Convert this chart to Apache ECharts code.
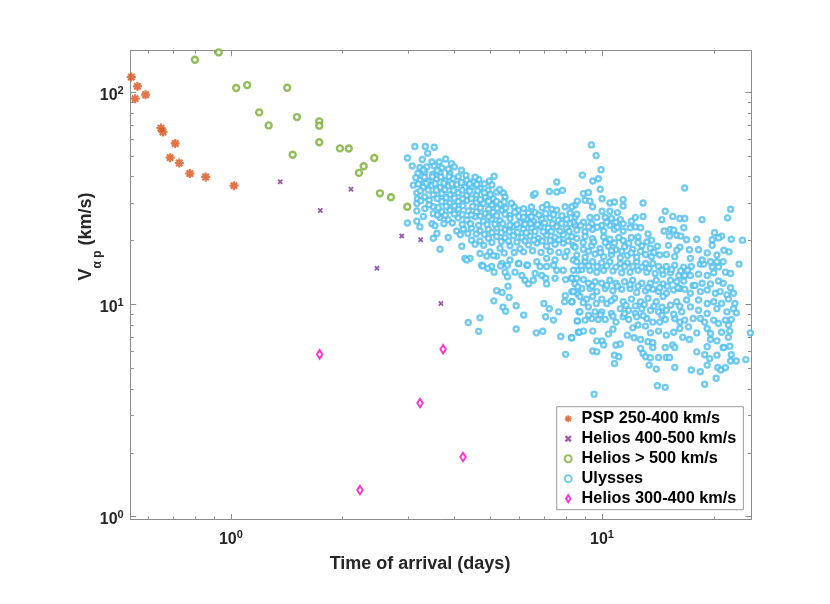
<!DOCTYPE html>
<html>
<head>
<meta charset="utf-8">
<script src="https://cdn.jsdelivr.net/npm/echarts@6/dist/echarts.min.js"></script>
<style>
  html, body { margin: 0; padding: 0; background: #fff; }
  #chart { width: 830px; height: 604px; }
</style>
</head>
<body>
<div id="chart"></div>
<script>
// axis ranges and ticks
const xRange = [0.537, 25.2];
const yRange = [0.97, 157];
const xTickValues = [1, 10];
const xTickExps = ['0', '1'];
const xMinorTicks = [0.6, 0.7, 0.8, 0.9, 2, 3, 4, 5, 6, 7, 8, 9, 20];
const yTickValues = [1, 10, 100];
const yTickExps = ['0', '1', '2'];
const yMinorTicks = [2, 3, 4, 5, 6, 7, 8, 9, 20, 30, 40, 50, 60, 70, 80, 90];

const seriesNames = ['PSP 250-400 km/s', 'Helios 400-500 km/s', 'Helios > 500 km/s', 'Ulysses', 'Helios 300-400 km/s'];

// [time of arrival (days), V alpha-p (km/s)]
const pspData = [
  [0.539, 117.9], [0.560, 106.6], [0.552, 93.3], [0.589, 97.4], [0.648, 67.8], [0.656, 64.9],
  [0.708, 57.4], [0.686, 49.2], [0.726, 46.4], [0.775, 41.4], [0.855, 39.9], [1.019, 36.3]
];
const heliosMidData = [
  [1.358, 37.9], [1.741, 27.7], [2.106, 34.9], [2.475, 14.8], [2.885, 21.0], [3.246, 20.2], [3.681, 10.1]
];
const heliosFastData = [
  [0.800, 142.4], [0.927, 154.1], [1.033, 104.7], [1.106, 108.1], [1.192, 80.4], [1.264, 69.8],
  [1.418, 105.1], [1.506, 76.4], [1.730, 72.9], [1.730, 69.6], [1.467, 50.8], [1.730, 58.1],
  [1.967, 54.4], [2.077, 54.3], [2.434, 49.0], [2.279, 44.8], [2.213, 41.7], [2.521, 33.4],
  [2.700, 32.0], [2.987, 28.9]
];
const heliosSlowData = [
  [1.734, 5.82], [3.73, 6.16], [3.232, 3.43], [2.227, 1.335], [4.221, 1.91]
];
const ulyssesData = [
  [3.13, 55.5], [3.34, 55.5], [3.53, 55.1], [3.39, 51.6], [2.99, 49.0], [3.28, 48.2], [3.79, 48.5],
  [3.08, 44.9], [3.23, 44.2], [3.48, 46.9], [3.64, 46.9], [3.93, 46.1], [3.37, 44.5], [3.53, 44.9],
  [3.70, 44.0], [4.18, 42.9], [3.19, 41.4], [3.33, 41.9], [3.50, 41.1], [3.66, 41.8], [3.89, 41.5],
  [4.10, 40.0], [3.10, 36.5], [3.23, 38.5], [3.40, 38.1], [3.58, 38.9], [3.78, 38.3], [3.97, 39.2],
  [4.32, 38.5], [4.50, 37.9], [4.66, 38.8], [5.12, 40.2], [4.97, 38.2], [3.17, 33.5], [3.30, 35.8],
  [3.48, 36.3], [3.66, 35.6], [3.85, 36.2], [4.06, 36.7], [4.27, 35.6], [4.45, 36.0], [4.69, 35.2],
  [4.93, 34.5], [5.20, 33.9], [5.42, 33.5], [3.18, 31.5], [3.33, 32.1], [3.51, 32.9], [3.70, 33.3],
  [3.89, 32.9], [4.10, 33.6], [4.32, 32.6], [4.59, 32.9], [4.84, 32.1], [5.09, 31.5], [5.48, 32.1],
  [3.17, 29.9], [3.33, 28.3], [3.51, 28.9], [3.70, 30.6], [3.89, 30.1], [4.10, 30.6], [4.32, 30.9],
  [4.59, 30.2], [4.79, 29.9], [5.04, 29.4], [5.31, 29.7], [5.80, 28.9], [3.17, 27.6], [3.51, 26.8],
  [3.70, 27.3], [3.89, 27.8], [4.10, 28.1], [4.36, 27.6], [4.59, 27.3], [4.84, 26.8], [5.09, 27.2],
  [5.37, 27.8], [5.65, 26.3], [5.97, 26.0], [6.33, 27.0], [6.60, 27.1], [7.32, 28.1], [7.55, 27.8],
  [7.95, 28.9], [8.46, 29.4], [6.53, 32.7], [6.60, 33.3], [7.21, 34.1], [7.55, 33.9], [7.82, 34.5],
  [7.55, 37.8], [2.99, 24.2], [3.17, 24.7], [3.23, 23.2], [3.48, 24.0], [3.66, 25.7], [3.85, 25.1],
  [4.10, 25.6], [4.32, 25.0], [4.55, 25.9], [4.79, 24.7], [5.04, 25.2], [5.31, 24.8], [5.65, 25.4],
  [6.01, 24.3], [6.27, 25.3], [6.53, 24.6], [6.88, 25.3], [7.24, 25.6], [7.62, 24.9], [8.03, 25.2],
  [8.46, 25.8], [3.51, 20.5], [3.59, 21.6], [3.85, 20.7], [4.06, 22.2], [4.23, 22.7], [4.45, 22.9],
  [4.69, 22.2], [4.94, 22.6], [5.20, 23.0], [5.48, 22.5], [5.77, 23.3], [6.14, 22.7], [6.46, 23.0],
  [6.81, 23.4], [7.17, 22.9], [7.55, 23.2], [8.03, 22.8], [8.46, 23.7], [4.19, 18.8], [4.45, 20.1],
  [4.69, 19.9], [4.94, 20.5], [5.20, 20.9], [5.48, 20.6], [5.77, 21.1], [6.08, 20.7], [6.40, 21.0],
  [6.73, 20.5], [7.09, 21.2], [7.47, 20.7], [7.86, 21.3], [8.29, 20.9], [3.66, 18.2], [4.69, 17.4],
  [4.99, 17.7], [5.31, 18.4], [5.65, 18.9], [6.01, 18.3], [6.33, 19.1], [6.67, 19.5], [7.09, 18.8],
  [7.47, 19.2], [7.86, 19.5], [8.37, 18.9], [4.27, 16.5], [4.41, 16.5], [4.74, 15.3], [5.04, 15.1],
  [5.37, 15.6], [5.65, 16.2], [5.95, 15.6], [6.27, 15.3], [6.67, 15.9], [7.09, 16.5], [7.47, 16.2],
  [7.95, 16.8], [8.37, 16.2], [4.89, 16.9], [5.20, 16.9],
  [4.32, 16.2], [4.77, 15.2], [4.92, 14.8], [5.12, 14.2], [5.33, 15.2], [5.56, 15.3], [5.48, 14.2],
  [5.56, 13.5], [5.83, 14.2], [5.97, 15.6], [6.08, 13.7], [6.30, 15.3], [6.20, 13.0], [6.33, 12.5],
  [6.53, 13.0], [6.60, 14.0], [6.81, 15.1], [6.88, 13.7], [7.05, 13.3], [7.09, 12.5], [7.47, 13.3],
  [7.55, 14.5], [7.86, 14.5], [7.98, 13.1], [8.29, 13.3], [8.46, 12.5], [8.63, 14.5], [7.09, 15.1],
  [7.40, 15.3], [5.20, 11.6], [5.38, 11.4], [5.58, 12.2], [5.11, 10.4], [5.62, 10.8], [5.41, 9.7],
  [5.50, 9.28], [5.87, 9.86], [6.15, 8.91], [6.97, 10.1], [7.21, 9.54], [7.64, 9.23], [7.05, 8.75],
  [7.40, 8.44], [7.96, 11.0], [8.29, 11.5], [7.93, 10.3], [8.30, 10.3], [8.60, 11.2], [8.67, 9.23],
  [8.58, 8.35], [4.36, 8.23], [4.69, 8.65], [4.65, 7.47], [5.87, 7.67], [6.65, 7.35], [6.92, 7.48],
  [7.74, 7.07], [8.27, 6.97], [8.63, 7.40], [7.98, 5.82],
  [8.55, 15.9], [9.00, 16.0], [9.43, 15.9], [9.98, 15.7], [10.5, 15.9], [11.2, 15.6], [11.7, 15.7],
  [12.4, 15.9], [13.1, 15.6], [13.7, 15.6], [14.2, 15.1], [14.9, 15.1], [15.7, 15.3], [16.6, 15.0],
  [17.4, 15.1], [18.4, 15.5], [18.8, 15.5], [19.8, 15.0], [20.6, 15.0], [21.2, 15.9], [20.4, 15.9],
  [8.37, 14.5], [8.82, 14.6], [9.28, 14.5], [9.68, 14.2], [10.1, 14.5], [10.7, 14.4], [11.3, 14.1],
  [11.9, 14.2], [12.5, 14.5], [13.2, 14.2], [13.9, 14.0], [14.6, 13.9], [15.3, 14.1], [16.1, 13.7],
  [16.7, 13.7], [17.3, 13.7], [18.2, 13.9], [19.2, 13.7], [20.0, 14.1], [21.5, 14.2], [22.2, 14.0],
  [8.29, 13.3], [8.55, 13.3], [8.91, 13.1], [9.19, 12.6], [9.58, 12.8], [9.98, 12.6], [10.5, 13.0],
  [10.9, 12.6], [11.5, 12.8], [12.1, 13.0], [12.8, 12.6], [13.5, 12.6], [14.0, 13.0], [14.6, 12.5],
  [15.3, 13.0], [15.9, 12.8], [16.6, 12.9], [17.6, 12.3], [18.6, 12.6], [19.6, 12.5], [20.6, 12.9],
  [21.2, 12.6], [22.2, 12.0], [8.37, 11.5], [8.82, 11.9], [9.28, 11.9], [9.68, 11.5], [10.2, 11.9],
  [10.7, 11.6], [11.3, 11.8], [11.9, 11.9], [12.4, 11.4], [13.1, 11.6], [13.7, 11.8], [14.2, 11.5],
  [14.9, 11.3], [15.6, 11.7], [16.2, 11.9], [16.7, 11.8], [17.3, 11.3], [17.8, 12.3], [18.4, 11.5],
  [19.2, 11.7], [20.2, 11.3], [20.8, 11.5], [21.7, 11.1], [22.6, 11.3], [8.29, 10.3], [8.72, 10.9],
  [9.09, 10.6], [9.43, 10.9], [9.98, 10.6], [10.3, 10.1], [10.8, 10.7], [11.4, 10.3], [12.0, 10.6],
  [12.7, 10.3], [13.3, 10.7], [14.0, 10.3], [14.6, 10.9], [15.3, 9.92], [15.9, 10.3], [16.9, 10.5],
  [18.2, 10.5], [19.2, 10.1], [20.0, 10.3], [21.0, 10.1], [21.9, 10.6], [22.8, 10.1], [8.72, 9.23],
  [9.19, 9.74], [9.58, 9.23], [9.98, 9.23], [10.6, 9.07], [11.2, 9.56], [11.8, 9.40], [12.3, 9.07],
  [12.8, 9.56], [13.5, 9.40], [14.2, 9.23], [14.9, 9.40], [16.4, 9.23], [17.3, 9.74], [18.2, 9.40],
  [19.2, 9.07], [20.4, 9.56], [21.7, 9.23], [22.6, 9.56], [23.0, 9.13], [8.58, 8.37], [9.00, 8.44],
  [9.38, 8.59], [9.77, 8.49], [10.2, 8.49], [10.9, 8.26], [11.4, 8.75], [11.8, 8.49], [12.4, 8.75],
  [13.2, 8.59], [13.7, 8.26], [14.3, 8.26], [14.8, 8.49], [15.7, 8.59], [16.2, 8.26], [16.7, 8.44],
  [17.6, 8.59], [18.4, 8.59], [18.9, 8.26], [20.0, 8.44], [20.6, 8.13], [21.5, 8.44], [22.3, 8.49],
  [21.9, 8.00], [8.29, 6.97], [8.69, 7.40], [8.91, 7.49], [9.44, 7.49], [10.4, 7.25], [10.7, 7.64],
  [11.7, 7.17], [12.1, 7.76], [12.5, 8.00], [13.1, 7.91], [13.5, 7.35], [14.2, 7.49], [14.9, 7.17],
  [15.6, 7.40], [16.2, 7.71], [17.1, 7.84], [18.0, 7.35], [19.2, 7.71], [19.6, 7.30], [21.0, 7.40],
  [22.1, 7.49], [21.9, 7.00], [9.68, 6.74], [10.0, 6.74], [10.1, 6.44], [10.9, 6.44], [11.2, 6.51],
  [12.2, 6.97], [12.7, 6.84], [13.3, 6.67], [13.7, 6.60], [13.7, 6.27], [14.8, 6.27], [15.5, 6.44],
  [15.7, 6.27], [16.5, 7.00], [17.2, 6.84], [19.6, 6.84], [20.4, 6.74], [21.2, 6.27], [22.1, 6.36],
  [25.1, 7.35], [9.44, 6.04], [9.68, 5.98], [10.8, 5.77], [11.1, 5.67], [12.7, 6.21], [12.9, 5.88],
  [13.1, 5.67], [13.5, 5.61], [14.2, 5.63], [14.9, 5.63], [15.2, 5.63], [18.0, 5.98], [19.2, 6.32],
  [18.9, 5.80], [19.5, 5.56], [20.4, 5.77], [21.3, 6.27], [22.3, 5.80], [22.2, 5.42], [23.0, 5.42],
  [24.4, 5.50], [10.8, 5.27], [13.4, 5.18], [14.0, 4.96], [15.7, 5.05], [17.4, 4.91], [18.4, 4.82],
  [19.2, 5.18], [20.5, 5.05], [20.9, 4.91], [21.5, 5.03], [20.3, 4.49], [14.1, 4.14], [14.8, 4.07],
  [18.9, 4.21], [9.52, 3.78],
  [9.36, 56.5], [9.64, 50.3], [9.94, 43.2], [8.85, 40.7], [9.44, 38.2], [9.77, 39.1], [9.89, 34.9],
  [8.91, 33.3], [9.19, 33.7], [9.00, 31.0], [8.58, 30.7], [9.28, 30.7], [10.0, 31.5], [9.43, 28.9],
  [16.7, 35.4], [10.5, 30.1], [10.8, 30.4], [11.4, 31.2], [11.4, 29.1], [12.9, 30.1], [10.0, 27.5],
  [10.5, 27.5], [11.0, 27.1], [12.9, 26.0], [14.8, 27.5], [14.5, 25.1], [15.5, 26.0], [16.2, 25.4],
  [16.7, 25.4], [18.6, 25.1], [21.8, 25.6], [22.2, 28.1], [8.29, 28.9], [8.55, 26.6], [9.28, 25.7],
  [9.68, 25.7], [10.2, 25.7], [10.6, 25.4], [11.2, 25.1], [12.0, 24.7], [12.3, 25.7], [8.37, 24.4],
  [8.91, 24.4], [9.38, 24.0], [9.98, 23.6], [10.5, 23.6], [10.9, 24.4], [11.4, 24.0], [12.3, 23.2],
  [12.7, 23.0], [16.6, 23.0], [14.7, 22.2], [15.3, 22.6], [15.6, 22.4], [8.55, 22.4], [9.00, 22.0],
  [9.43, 22.6], [10.1, 22.2], [10.8, 22.6], [11.4, 22.2], [12.0, 20.7], [12.5, 20.8], [13.3, 21.5],
  [13.6, 20.1], [15.2, 21.0], [15.9, 21.2], [16.3, 21.0], [16.9, 20.2], [18.0, 20.3], [20.1, 21.8],
  [21.0, 21.0], [20.6, 20.6], [22.3, 20.3], [19.8, 20.2], [19.8, 19.0], [21.3, 18.0], [22.0, 17.7],
  [19.2, 17.5], [20.4, 17.1], [18.2, 18.1], [17.2, 18.1], [16.2, 18.6], [15.1, 19.0], [14.3, 17.1],
  [14.9, 17.2], [15.7, 16.8], [15.9, 18.0], [8.55, 20.5], [9.00, 20.9], [9.43, 20.4], [10.1, 20.8],
  [10.5, 20.3], [11.1, 20.7], [11.4, 20.0], [8.46, 18.6], [8.91, 18.2], [9.38, 18.9], [9.88, 18.3],
  [10.4, 18.8], [10.9, 18.1], [11.5, 18.7], [12.1, 18.2], [12.8, 18.9], [13.5, 18.4], [14.1, 18.8],
  [8.55, 17.1], [9.00, 16.7], [9.58, 17.3], [10.1, 16.8], [10.6, 17.2], [11.2, 16.6], [11.7, 17.0],
  [12.4, 16.7], [13.1, 17.2], [13.6, 16.8], [17.3, 16.5], [18.6, 16.2], [19.6, 15.9], [23.9, 20.1],
  [23.4, 15.5],
  // dense core, read between the outlined rows
  [3.30, 43.0], [3.60, 42.8], [3.85, 43.4], [4.00, 44.5], [3.15, 39.6], [3.32, 39.8], [3.49, 40.0],
  [3.68, 39.9], [3.87, 40.1], [4.30, 40.6], [4.55, 39.8], [3.20, 37.0], [3.36, 37.2], [3.55, 37.1],
  [3.75, 37.3], [3.94, 37.0], [4.18, 37.6], [4.40, 37.0], [4.60, 36.8], [4.82, 37.0], [5.05, 36.6],
  [3.24, 34.3], [3.40, 34.6], [3.58, 34.5], [3.77, 34.7], [3.98, 34.4], [4.20, 34.6], [4.40, 34.2],
  [4.62, 34.3], [4.82, 33.6], [5.00, 33.0], [5.30, 34.8], [3.25, 30.8], [3.42, 31.0], [3.60, 31.6],
  [3.80, 31.8], [4.00, 31.7], [4.21, 31.5], [4.45, 31.6], [4.70, 31.2], [4.95, 30.6], [5.20, 30.6],
  [5.45, 30.5], [5.70, 30.0], [3.42, 29.5], [3.62, 28.6], [3.80, 29.0], [4.00, 29.1], [4.22, 29.2],
  [4.48, 29.0], [4.70, 28.5], [4.95, 28.2], [5.22, 28.4], [5.50, 28.5], [5.95, 27.8], [6.15, 28.3],
  [6.45, 28.8], [6.90, 28.6], [7.10, 29.5], [3.30, 26.0], [3.60, 26.4], [3.78, 26.3], [4.00, 26.7],
  [4.20, 26.5], [4.45, 26.4], [4.70, 26.1], [4.95, 25.9], [5.20, 26.2], [5.48, 26.6], [5.82, 27.2],
  [6.15, 25.8], [6.45, 25.9], [6.75, 26.4], [7.05, 26.8], [7.40, 26.5], [7.80, 26.2], [8.20, 27.0],
  [3.55, 23.5], [3.75, 24.0], [3.95, 24.2], [4.20, 23.8], [4.42, 24.0], [4.65, 23.6], [4.90, 23.8],
  [5.15, 23.9], [5.40, 24.0], [5.65, 23.7], [5.90, 23.8], [6.20, 23.9], [6.42, 24.0], [6.70, 23.8],
  [7.00, 24.2], [7.35, 24.0], [7.78, 24.1], [8.20, 24.0], [4.15, 21.3], [4.35, 21.6], [4.58, 21.5],
  [4.82, 21.4], [5.05, 21.8], [5.35, 21.8], [5.62, 22.0], [5.92, 21.9], [6.25, 21.8], [6.60, 22.1],
  [6.95, 22.0], [7.30, 22.1], [7.70, 22.2], [8.15, 22.1], [4.55, 19.2], [4.80, 19.0], [5.05, 19.6],
  [5.35, 19.8], [5.60, 19.9], [5.90, 19.7], [6.20, 19.9], [6.55, 20.1], [6.90, 19.9], [7.25, 20.0],
  [7.65, 20.2], [8.10, 19.9], [5.10, 17.0], [5.45, 17.5], [5.80, 17.6], [6.15, 17.7], [6.50, 17.9],
  [6.85, 17.6], [7.25, 17.8], [7.65, 17.6], [8.05, 17.8], [8.80, 15.2], [9.20, 15.2], [9.70, 15.1],
  [10.3, 15.2], [10.9, 15.0], [11.5, 15.1], [12.1, 15.1], [12.8, 15.0], [13.4, 14.8], [14.5, 14.5],
  [15.4, 14.6], [16.3, 14.4], [17.0, 14.5], [8.60, 12.1], [9.40, 12.2], [10.3, 12.3], [11.0, 12.2],
  [11.9, 12.4], [12.5, 12.2], [13.3, 12.0], [14.3, 12.0], [15.0, 12.2], [16.0, 12.0], [8.90, 10.2],
  [9.65, 10.1], [10.6, 10.4], [11.6, 9.9], [12.3, 9.85], [13.0, 10.0], [13.8, 9.8], [14.5, 9.7],
  [16.2, 9.8], [9.20, 8.9], [9.90, 8.95], [10.7, 8.8], [11.5, 9.05], [12.9, 8.85], [14.5, 8.9],
  [15.6, 9.0], [8.75, 23.5], [9.20, 23.2], [9.70, 23.1], [10.3, 24.4], [11.0, 23.1], [11.9, 23.0],
  [8.90, 19.6], [9.50, 19.7], [10.2, 19.6], [10.8, 19.5], [11.8, 19.4], [12.5, 19.6], [13.2, 19.7],
  [9.20, 17.8], [9.90, 17.6], [10.6, 17.9], [11.3, 17.8], [12.0, 17.5], [12.7, 17.8], [13.8, 17.6]
];

const axisGray = '#8c8c8c';
const textDark = '#262626';
const fontFamily = '"Liberation Sans", Arial, Helvetica, sans-serif';

// MATLAB-like star, cross and diamond markers
const starPath = 'path://M7.6 0H12.4V20H7.6Z M0 7.6H20V12.4H0Z M4.63 1.23L18.77 15.37L15.37 18.77L1.23 4.63Z M15.37 1.23L18.77 4.63L4.63 18.77L1.23 15.37Z';
const crossPath = 'path://M5.12 0.88L19.12 14.88L14.88 19.12L0.88 5.12Z M14.88 0.88L19.12 5.12L5.12 19.12L0.88 14.88Z';
const diamondPath = 'path://M5 0L10 8L5 16L0 8Z';

function powLabel(values, exps) {
  return function (v) {
    let best = 0;
    values.forEach((t, i) => {
      if (Math.abs(Math.log10(t) - Math.log10(v)) < Math.abs(Math.log10(values[best]) - Math.log10(v))) best = i;
    });
    return '{b|10}{e|' + exps[best] + '}';
  };
}
const powRich = {
  b: { fontSize: 16, fontWeight: 'bold', fontFamily, color: textDark, lineHeight: 20 },
  e: { fontSize: 11, fontWeight: 'bold', fontFamily, color: textDark, lineHeight: 12, verticalAlign: 'top' }
};

function makeAxis(range, position, ticks, tickLen, withLine, label) {
  return {
    type: 'log',
    logBase: 10,
    position,
    min: range[0],
    max: range[1],
    axisLine: { show: withLine, onZero: false, lineStyle: { color: axisGray, width: 1 } },
    axisTick: { show: true, inside: true, length: tickLen, customValues: ticks, lineStyle: { color: axisGray, width: 1 } },
    axisLabel: label || { show: false },
    splitLine: { show: false },
    minorTick: { show: false },
    axisPointer: { show: false }
  };
}

const xAxes = [
  makeAxis(xRange, 'bottom', xTickValues, 5.5, true, {
    show: true, customValues: xTickValues, margin: 10, formatter: powLabel(xTickValues, xTickExps), rich: powRich
  }),
  makeAxis(xRange, 'bottom', xMinorTicks, 3, false),
  makeAxis(xRange, 'top', xTickValues, 5.5, true),
  makeAxis(xRange, 'top', xMinorTicks, 3, false)
];
const yAxes = [
  makeAxis(yRange, 'left', yTickValues, 5.5, true, {
    show: true, customValues: yTickValues, margin: 7, padding: [6, 0, 0, 0], formatter: powLabel(yTickValues, yTickExps), rich: powRich
  }),
  makeAxis(yRange, 'left', yMinorTicks, 3, false),
  makeAxis(yRange, 'right', yTickValues, 5.5, true),
  makeAxis(yRange, 'right', yMinorTicks, 3, false)
];

const chart = echarts.init(document.getElementById('chart'), null, { renderer: 'canvas' });
const option = {
  backgroundColor: '#fff',
  animation: false,
  grid: { left: 130.7, right: 79, top: 50.7, bottom: 84.5, containLabel: false },
  xAxis: xAxes,
  yAxis: yAxes,
  legend: {
    data: [
      { name: seriesNames[0] },
      { name: seriesNames[1] },
      { name: seriesNames[2] },
      { name: seriesNames[3] },
      { name: seriesNames[4], icon: diamondPath }
    ],
    orient: 'vertical',
    left: 556.7,
    top: 406.7,
    itemWidth: 16.8,
    itemHeight: 7,
    itemGap: 0,
    padding: [2, 7, 1, 7],
    backgroundColor: '#fff',
    borderColor: '#9a9a9a',
    borderWidth: 1,
    borderRadius: 0,
    textStyle: { fontSize: 16.3, fontWeight: 'bold', fontFamily, color: '#000', lineHeight: 20 }
  },
  graphic: [
    {
      type: 'text', x: 420, y: 564.5,
      style: { text: 'Time of arrival (days)', font: 'bold 18px ' + fontFamily, fill: textDark, align: 'center', verticalAlign: 'middle' }
    },
    {
      type: 'text', x: 86.5, y: 236.5, rotation: Math.PI / 2,
      style: {
        text: '{v|V}{s|α p}{v| (km/s)}', align: 'center', verticalAlign: 'middle', fill: textDark,
        rich: {
          v: { fontSize: 18, fontWeight: 'bold', fontFamily, fill: textDark, lineHeight: 34, verticalAlign: 'middle' },
          s: { fontSize: 12, fontWeight: 'bold', fontFamily, fill: textDark, lineHeight: 12, verticalAlign: 'bottom' }
        }
      }
    }
  ],
  series: [
    {
      name: seriesNames[0], type: 'scatter', data: pspData,
      symbol: starPath, symbolSize: 9,
      itemStyle: { color: '#D95319' }
    },
    {
      name: seriesNames[1], type: 'scatter', data: heliosMidData,
      symbol: crossPath, symbolSize: 5.5,
      itemStyle: { color: '#7E2F8E' }
    },
    {
      name: seriesNames[2], type: 'scatter', data: heliosFastData,
      symbol: 'circle', symbolSize: 6,
      itemStyle: { color: '#ffffff', borderColor: '#77AC30', borderWidth: 2.4 }
    },
    {
      name: seriesNames[3], type: 'scatter', data: ulyssesData,
      symbol: 'circle', symbolSize: 5,
      itemStyle: { color: '#ffffff', borderColor: '#4DBEEE', borderWidth: 2.4 }
    },
    {
      name: seriesNames[4], type: 'scatter', data: heliosSlowData,
      symbol: 'diamond', symbolSize: [5.5, 8.5],
      itemStyle: { color: '#ffffff', borderColor: '#FF00CC', borderWidth: 2 }
    }
  ]
};
chart.setOption(option);
</script>
</body>
</html>
